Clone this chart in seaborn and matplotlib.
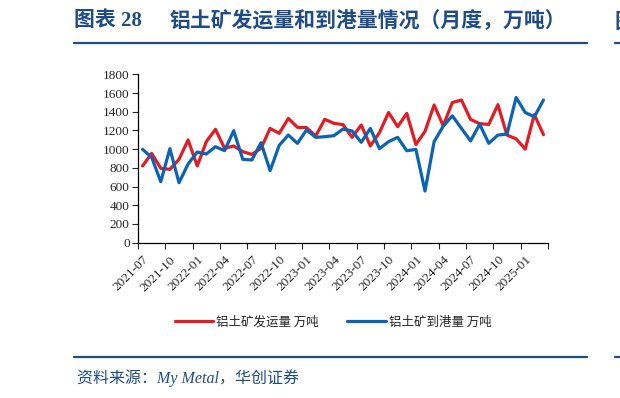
import numpy as np
import pandas as pd
import matplotlib
matplotlib.use("Agg")
import matplotlib.pyplot as plt
from matplotlib.lines import Line2D
import seaborn as sns

# monthly data, 2021-07 .. 2025-03
months = list(pd.period_range("2021-07", periods=45, freq="M").strftime("%Y-%m"))
shipment = [820, 955, 795, 784, 891, 1098, 820, 1080, 1212, 1009, 1034, 973, 944, 1009, 1222, 1169, 1329,
            1233, 1230, 1140, 1319, 1276, 1262, 1126, 1258, 1034, 1176,
            1392, 1240, 1382, 1050, 1190, 1472, 1250, 1498, 1525, 1318, 1272, 1264, 1475, 1150, 1110, 1000, 1370, 1155]
arrival = [998, 912, 652, 1005, 641, 841, 969, 948, 1026, 984, 1197, 891, 884, 1069, 770, 1041, 1151,
           1062, 1205, 1126, 1133, 1144, 1215, 1194, 1073, 1222, 1005,
           1080, 1126, 983, 997, 552, 1080, 1245, 1356, 1222, 1088, 1266, 1062, 1150, 1162, 1552, 1392, 1345, 1525]
series_names = ["铝土矿发运量 万吨", "铝土矿到港量 万吨"]
colors = ["#E31B23", "#0B63B6"]

df = pd.concat([
    pd.DataFrame({"idx": np.arange(len(months)), "month": months, "value": shipment, "series": series_names[0]}),
    pd.DataFrame({"idx": np.arange(len(months)), "month": months, "value": arrival, "series": series_names[1]}),
])

sns.set_style("ticks")
plt.rcParams['font.family'] = ['Liberation Serif', 'Noto Sans CJK SC', 'DejaVu Sans']

W, H = 620, 398
fig = plt.figure(figsize=(W / 100, H / 100), dpi=100)
ax = fig.add_axes([138 / W, 1 - 242.7 / H, (548 - 138) / W, (242.7 - 74.3) / H])

sns.lineplot(data=df, x="idx", y="value", hue="series", hue_order=series_names,
             palette=colors, linewidth=2.3, ax=ax, legend=False)

ax.set_xlim(-0.5, len(months) - 0.5)
ax.set_ylim(0, 1800)
ax.set_yticks(np.arange(0, 1801, 200))
ax.set_xticks(np.arange(0, len(months), 3))
ax.set_xticklabels([months[i] for i in range(0, len(months), 3)], rotation=45,
                   ha="right", rotation_mode="anchor")
ax.set_xticks(np.arange(-0.5, len(months), 3), minor=True)
ax.tick_params(axis="x", which="major", length=0, pad=8, labelsize=9.5)
ax.tick_params(axis="x", which="minor", length=4, width=0.8, direction="out")
ax.tick_params(axis="y", length=4, width=0.8, labelsize=9.5, pad=2)
ax.set_xlabel("")
ax.set_ylabel("")
for s in ["left", "bottom"]:
    ax.spines[s].set_linewidth(0.9)
    ax.spines[s].set_color("black")
sns.despine(ax=ax)

# legend
handles = [Line2D([0], [0], color=c, lw=2.3) for c in colors]
fig.legend(handles, series_names, loc="center", ncol=2, frameon=False,
           bbox_to_anchor=(333 / W, 1 - 322 / H), handlelength=3.1, handletextpad=0.25,
           columnspacing=2.2, prop={"family": ["Noto Sans CJK SC"], "size": 9})

# title and frame lines
navy = "#1F4B87"
fig.text(74 / W, 1 - 21 / H, "图表 28", color=navy, fontsize=15, fontweight="bold",
         va="center", ha="left", family=["Liberation Serif", "Noto Sans CJK SC"])
fig.text(170 / W, 1 - 21 / H, "铝土矿发运量和到港量情况（月度，万吨）", color=navy, fontsize=15,
         fontweight="bold", va="center", ha="left", family=["Noto Sans CJK SC"])
fig.text(614 / W, 1 - 21 / H, "图", color=navy, fontsize=15, fontweight="bold",
         va="center", ha="left", family=["Noto Sans CJK SC"])
for yy in (42.7, 357):
    fig.add_artist(Line2D([74 / W, 587 / W], [1 - yy / H] * 2, color=navy, lw=1.6))
    fig.add_artist(Line2D([615 / W, 1.0], [1 - yy / H] * 2, color=navy, lw=1.6))
fig.text(77 / W, 1 - 378 / H, "资料来源：My Metal，华创证券", color=navy, fontsize=11.5,
         style="italic", va="center", ha="left", family=["Liberation Serif", "Noto Sans CJK SC"])

fig.savefig("out.png", dpi=100)
